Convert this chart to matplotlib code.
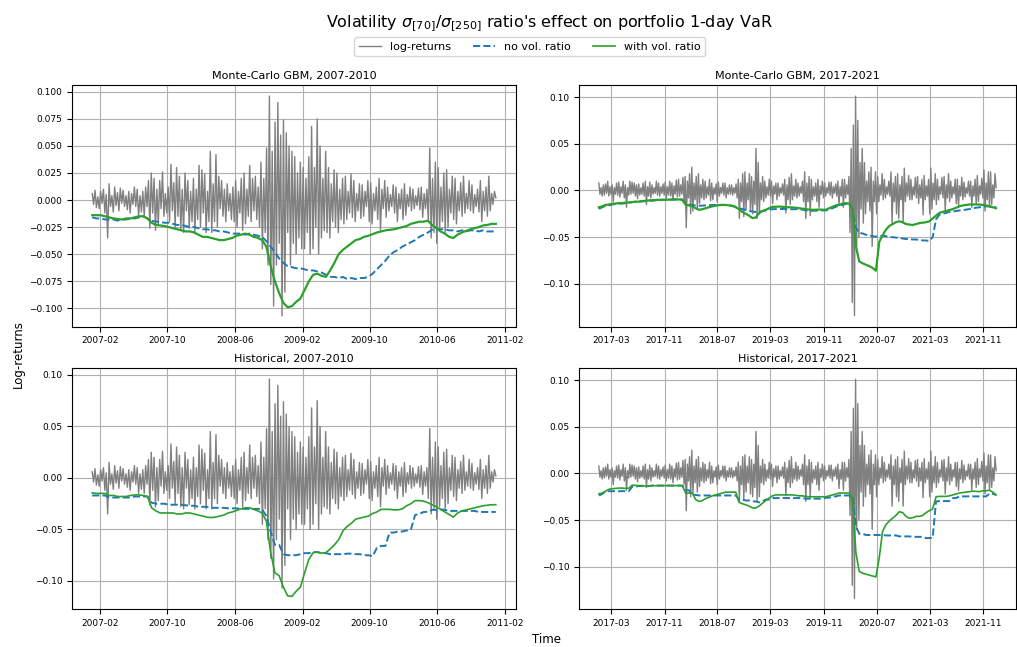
import numpy as np
import pandas as pd
import matplotlib
matplotlib.use('Agg')
import matplotlib.pyplot as plt
import matplotlib.dates as mdates
from matplotlib.ticker import FixedLocator

# Period ranges (first and last trading day)
start_a, end_a = '2007-01-03', '2010-12-31'
start_b, end_b = '2017-01-03', '2021-12-31'

# Log-returns (6 values per month)
ret_a = [
    # 2007
    0.006, -0.004, 0.009, -0.007, 0.003, -0.008,   0.008, -0.003, 0.010, -0.012, 0.005, -0.035,
    0.015, -0.006, 0.004, -0.011, 0.012, -0.005,   0.007, -0.010, 0.011, -0.003, 0.009, -0.006,
    0.004, -0.009, 0.008, -0.012, 0.006, -0.004,   0.012, -0.006, 0.010, -0.015, 0.004, -0.011,
    0.008, -0.015, 0.012, -0.006, 0.018, -0.026,   0.025, -0.012, 0.020, -0.028, 0.010, -0.022,
    0.018, -0.008, 0.026, -0.015, 0.006, -0.012,   0.012, -0.020, 0.033, -0.010, 0.016, -0.025,
    0.030, -0.015, 0.022, -0.028, 0.010, -0.030,   0.025, -0.010, 0.018, -0.026, 0.008, -0.020,
    # 2008
    0.020, -0.030, 0.010, -0.018, 0.032, -0.025,   0.028, -0.012, 0.024, -0.030, 0.008, -0.020,
    0.045, -0.030, 0.015, -0.020, 0.042, -0.025,   0.022, -0.008, 0.018, -0.015, 0.010, -0.020,
    0.015, -0.010, 0.006, -0.018, 0.012, -0.020,   0.018, -0.025, 0.008, -0.012, 0.020, -0.028,
    0.025, -0.022, 0.010, -0.015, 0.032, -0.020,   0.020, -0.010, 0.022, -0.018, 0.012, -0.025,
    0.035, -0.045, 0.020, -0.030, 0.048, -0.060,   0.096, -0.078, 0.045, -0.098, 0.072, -0.060,
    0.090, -0.040, 0.060, -0.107, 0.074, -0.085,   0.062, -0.030, 0.050, -0.060, 0.045, -0.040,
    # 2009
    0.040, -0.050, 0.025, -0.035, 0.035, -0.045,   0.030, -0.045, 0.020, -0.030, 0.040, -0.050,
    0.068, -0.045, 0.030, -0.025, 0.075, -0.050,   0.050, -0.035, 0.020, -0.028, 0.045, -0.030,
    0.030, -0.035, 0.015, -0.020, 0.028, -0.025,   0.025, -0.030, 0.010, -0.018, 0.020, -0.022,
    0.022, -0.018, 0.008, -0.012, 0.024, -0.016,   0.018, -0.020, 0.006, -0.010, 0.015, -0.017,
    0.014, -0.015, 0.008, -0.006, 0.018, -0.020,   0.016, -0.022, 0.006, -0.010, 0.012, -0.018,
    0.020, -0.028, 0.010, -0.008, 0.018, -0.016,   0.012, -0.010, 0.005, -0.006, 0.014, -0.012,
    # 2010
    0.012, -0.020, 0.006, -0.008, 0.010, -0.018,   0.015, -0.014, 0.005, -0.006, 0.012, -0.010,
    0.010, -0.008, 0.004, -0.005, 0.011, -0.009,   0.012, -0.016, 0.006, -0.008, 0.010, -0.020,
    0.048, -0.035, 0.020, -0.030, 0.035, -0.040,   0.030, -0.028, 0.012, -0.020, 0.025, -0.030,
    0.028, -0.025, 0.010, -0.012, 0.022, -0.018,   0.020, -0.022, 0.008, -0.010, 0.016, -0.015,
    0.022, -0.012, 0.006, -0.008, 0.018, -0.010,   0.014, -0.012, 0.005, -0.006, 0.010, -0.011,
    0.018, -0.020, 0.008, -0.010, 0.012, -0.015,   0.022, -0.010, 0.006, -0.004, 0.008, 0.002,
]

ret_b = [
    # 2017
    0.008, -0.004, 0.003, -0.006, 0.006, -0.005,   0.007, -0.003, 0.010, -0.006, 0.004, -0.004,
    0.006, -0.012, 0.003, -0.004, 0.008, -0.005,   0.009, -0.007, 0.004, -0.003, 0.010, -0.008,
    0.006, -0.018, 0.003, -0.005, 0.010, -0.004,   0.009, -0.003, 0.008, -0.006, 0.006, -0.009,
    0.007, -0.005, 0.003, -0.004, 0.008, -0.006,   0.010, -0.015, 0.004, -0.006, 0.009, -0.008,
    0.006, -0.004, 0.003, -0.003, 0.010, -0.005,   0.008, -0.006, 0.004, -0.003, 0.007, -0.005,
    0.009, -0.008, 0.004, -0.005, 0.010, -0.006,   0.008, -0.010, 0.005, -0.004, 0.011, -0.007,
    # 2018
    0.012, -0.006, 0.006, -0.004, 0.014, -0.012,   0.015, -0.040, 0.010, -0.008, 0.018, -0.025,
    0.025, -0.022, 0.008, -0.010, 0.015, -0.020,   0.018, -0.014, 0.006, -0.008, 0.012, -0.010,
    0.010, -0.008, 0.004, -0.005, 0.012, -0.011,   0.008, -0.010, 0.003, -0.004, 0.007, -0.012,
    0.009, -0.006, 0.003, -0.003, 0.008, -0.005,   0.008, -0.008, 0.003, -0.004, 0.006, -0.004,
    0.006, -0.005, 0.003, -0.003, 0.007, -0.008,   0.012, -0.030, 0.008, -0.012, 0.018, -0.028,
    0.020, -0.020, 0.008, -0.010, 0.018, -0.022,   0.015, -0.025, 0.010, -0.015, 0.045, -0.030,
    # 2019
    0.030, -0.025, 0.008, -0.010, 0.015, -0.012,   0.010, -0.008, 0.004, -0.005, 0.012, -0.006,
    0.010, -0.014, 0.005, -0.004, 0.008, -0.010,   0.008, -0.006, 0.003, -0.003, 0.007, -0.005,
    0.012, -0.024, 0.006, -0.010, 0.014, -0.015,   0.018, -0.010, 0.005, -0.006, 0.012, -0.008,
    0.008, -0.006, 0.004, -0.003, 0.010, -0.012,   0.020, -0.030, 0.008, -0.012, 0.015, -0.027,
    0.012, -0.010, 0.004, -0.006, 0.008, -0.012,   0.012, -0.018, 0.005, -0.004, 0.010, -0.008,
    0.008, -0.006, 0.003, -0.003, 0.009, -0.005,   0.009, -0.008, 0.004, -0.003, 0.007, -0.006,
    # 2020
    0.010, -0.016, 0.004, -0.006, 0.012, -0.018,   0.012, -0.008, 0.006, -0.004, 0.015, -0.045,
    0.045, -0.120, 0.070, -0.134, 0.101, -0.060,   0.075, -0.050, 0.030, -0.020, 0.045, -0.035,
    0.030, -0.025, 0.010, -0.012, 0.020, -0.022,   0.025, -0.060, 0.010, -0.012, 0.020, -0.025,
    0.015, -0.012, 0.006, -0.005, 0.018, -0.010,   0.012, -0.008, 0.004, -0.004, 0.010, -0.006,
    0.020, -0.035, 0.008, -0.012, 0.015, -0.025,   0.018, -0.030, 0.006, -0.010, 0.015, -0.035,
    0.024, -0.012, 0.008, -0.006, 0.016, -0.010,   0.012, -0.010, 0.004, -0.005, 0.014, -0.008,
    # 2021
    0.015, -0.014, 0.006, -0.008, 0.012, -0.026,   0.016, -0.010, 0.005, -0.006, 0.012, -0.025,
    0.024, -0.020, 0.008, -0.010, 0.018, -0.015,   0.012, -0.010, 0.004, -0.004, 0.014, -0.008,
    0.015, -0.022, 0.006, -0.008, 0.018, -0.012,   0.010, -0.008, 0.004, -0.004, 0.012, -0.014,
    0.012, -0.018, 0.005, -0.006, 0.014, -0.010,   0.009, -0.007, 0.003, -0.003, 0.010, -0.006,
    0.010, -0.018, 0.005, -0.006, 0.012, -0.015,   0.016, -0.012, 0.005, -0.004, 0.013, -0.008,
    0.022, -0.022, 0.008, -0.010, 0.020, -0.018,   0.020, -0.015, 0.006, -0.008, 0.018, 0.003,
]

# 1-day VaR estimates (2 values per month)
mc_novol_a = [
    -0.016, -0.017, -0.017, -0.018, -0.018, -0.018, -0.019, -0.018, -0.018, -0.017, -0.017, -0.016,
    -0.015, -0.017, -0.019, -0.020, -0.020, -0.021, -0.021, -0.022, -0.023, -0.023, -0.024, -0.025,
    -0.025, -0.026, -0.027, -0.027, -0.028, -0.028, -0.029, -0.029, -0.030, -0.031, -0.031, -0.031,
    -0.032, -0.031, -0.032, -0.033, -0.034, -0.038, -0.043, -0.048, -0.054, -0.058, -0.061, -0.062,
    -0.063, -0.063, -0.064, -0.065, -0.065, -0.066, -0.067, -0.069, -0.071, -0.071, -0.072, -0.071,
    -0.073, -0.072, -0.073, -0.072, -0.072, -0.071, -0.068, -0.064, -0.060, -0.056, -0.051, -0.048,
    -0.046, -0.043, -0.041, -0.039, -0.037, -0.034, -0.032, -0.030, -0.0275, -0.027, -0.027, -0.027,
    -0.028, -0.028, -0.029, -0.028, -0.029, -0.028, -0.028, -0.029, -0.028, -0.029, -0.029, -0.029,
]
mc_vol_a = [
    -0.014, -0.014, -0.014, -0.015, -0.016, -0.017, -0.0175, -0.018, -0.017, -0.017, -0.016, -0.015,
    -0.015, -0.017, -0.021, -0.023, -0.0235, -0.024, -0.025, -0.026, -0.027, -0.028, -0.029, -0.029,
    -0.030, -0.032, -0.034, -0.034, -0.035, -0.036, -0.037, -0.037, -0.036, -0.035, -0.033, -0.032,
    -0.031, -0.032, -0.034, -0.035, -0.037, -0.043, -0.061, -0.075, -0.086, -0.095, -0.099, -0.098,
    -0.094, -0.091, -0.083, -0.075, -0.069, -0.068, -0.070, -0.071, -0.065, -0.058, -0.050, -0.046,
    -0.043, -0.040, -0.037, -0.036, -0.034, -0.033, -0.0315, -0.030, -0.029, -0.028, -0.0275, -0.027,
    -0.026, -0.025, -0.024, -0.022, -0.021, -0.020, -0.020, -0.019, -0.023, -0.026, -0.029, -0.031,
    -0.034, -0.035, -0.032, -0.030, -0.0285, -0.027, -0.026, -0.025, -0.0235, -0.023, -0.022, -0.022,
]
hs_novol_a = [
    -0.017, -0.017, -0.017, -0.017, -0.019, -0.019, -0.019, -0.019, -0.019, -0.019, -0.018, -0.018,
    -0.018, -0.018, -0.024, -0.025, -0.025, -0.025, -0.026, -0.026, -0.026, -0.026, -0.0265, -0.027,
    -0.027, -0.028, -0.028, -0.028, -0.029, -0.029, -0.029, -0.029, -0.0295, -0.0295, -0.0295, -0.030,
    -0.030, -0.030, -0.030, -0.030, -0.0305, -0.037, -0.052, -0.065, -0.065, -0.074, -0.075, -0.075,
    -0.075, -0.074, -0.073, -0.073, -0.072, -0.072, -0.073, -0.073, -0.074, -0.074, -0.074, -0.074,
    -0.0735, -0.0735, -0.074, -0.074, -0.075, -0.075, -0.076, -0.068, -0.066, -0.066, -0.053, -0.053,
    -0.052, -0.052, -0.051, -0.050, -0.036, -0.035, -0.033, -0.033, -0.031, -0.031, -0.0305, -0.031,
    -0.032, -0.032, -0.032, -0.032, -0.032, -0.032, -0.032, -0.033, -0.033, -0.033, -0.033, -0.033,
]
hs_vol_a = [
    -0.0145, -0.015, -0.015, -0.015, -0.017, -0.017, -0.018, -0.018, -0.018, -0.017, -0.0165, -0.0165,
    -0.017, -0.018, -0.029, -0.032, -0.034, -0.034, -0.034, -0.034, -0.035, -0.035, -0.034, -0.034,
    -0.035, -0.036, -0.037, -0.038, -0.0385, -0.038, -0.037, -0.036, -0.034, -0.033, -0.0315, -0.030,
    -0.029, -0.029, -0.0305, -0.032, -0.034, -0.042, -0.0725, -0.092, -0.095, -0.106, -0.1145, -0.115,
    -0.110, -0.106, -0.092, -0.079, -0.0725, -0.072, -0.073, -0.0725, -0.069, -0.065, -0.060, -0.0515,
    -0.047, -0.044, -0.040, -0.039, -0.038, -0.037, -0.0345, -0.033, -0.0305, -0.0305, -0.0305, -0.031,
    -0.031, -0.030, -0.027, -0.025, -0.022, -0.022, -0.0225, -0.024, -0.026, -0.028, -0.0305, -0.033,
    -0.0355, -0.038, -0.034, -0.032, -0.031, -0.030, -0.029, -0.028, -0.027, -0.0265, -0.026, -0.026,
]

mc_novol_b = [
    -0.0196, -0.018, -0.0164, -0.016, -0.015, -0.0145, -0.014, -0.014, -0.0136, -0.013, -0.0125, -0.012,
    -0.012, -0.0115, -0.0115, -0.011, -0.011, -0.0105, -0.0105, -0.010, -0.010, -0.010, -0.0098, -0.0096,
    -0.0096, -0.0096, -0.0136, -0.015, -0.0157, -0.016, -0.0164, -0.0162, -0.016, -0.0158, -0.0156, -0.0155,
    -0.0154, -0.0155, -0.0156, -0.0158, -0.0164, -0.0175, -0.019, -0.020, -0.0207, -0.022, -0.0225, -0.023,
    -0.0229, -0.022, -0.0214, -0.0207, -0.020, -0.020, -0.020, -0.0198, -0.020, -0.020, -0.0202, -0.020,
    -0.020, -0.0205, -0.0214, -0.0214, -0.0218, -0.0216, -0.0216, -0.0214, -0.0214, -0.020, -0.019, -0.0175,
    -0.016, -0.0155, -0.0143, -0.0145, -0.020, -0.040, -0.0457, -0.046, -0.0475, -0.048, -0.049, -0.0495,
    -0.049, -0.0485, -0.049, -0.050, -0.050, -0.0505, -0.051, -0.0515, -0.052, -0.052, -0.0525, -0.0525,
    -0.053, -0.0535, -0.0536, -0.054, -0.050, -0.031, -0.026, -0.025, -0.024, -0.023, -0.0225, -0.022,
    -0.0214, -0.021, -0.0205, -0.020, -0.019, -0.0185, -0.018, -0.0175, -0.017, -0.017, -0.0175, -0.018,
]
mc_vol_b = [
    -0.018, -0.017, -0.0155, -0.015, -0.0143, -0.014, -0.0135, -0.0135, -0.013, -0.0128, -0.0125, -0.012,
    -0.012, -0.0115, -0.011, -0.0106, -0.0104, -0.0102, -0.010, -0.010, -0.010, -0.0098, -0.0096, -0.0096,
    -0.0096, -0.010, -0.0154, -0.016, -0.017, -0.019, -0.0207, -0.020, -0.019, -0.018, -0.017, -0.0163,
    -0.0157, -0.0155, -0.0155, -0.016, -0.0165, -0.018, -0.020, -0.023, -0.025, -0.027, -0.0296, -0.029,
    -0.0243, -0.022, -0.0207, -0.019, -0.0175, -0.0175, -0.0172, -0.0175, -0.018, -0.018, -0.0182, -0.0185,
    -0.019, -0.0195, -0.020, -0.0205, -0.0207, -0.0206, -0.0204, -0.0206, -0.0207, -0.019, -0.0175, -0.016,
    -0.0154, -0.014, -0.0136, -0.014, -0.020, -0.060, -0.076, -0.078, -0.0796, -0.081, -0.083, -0.086,
    -0.055, -0.048, -0.042, -0.038, -0.036, -0.034, -0.033, -0.034, -0.036, -0.0365, -0.037, -0.036,
    -0.035, -0.0345, -0.034, -0.033, -0.030, -0.027, -0.024, -0.023, -0.022, -0.021, -0.020, -0.0185,
    -0.017, -0.016, -0.0155, -0.015, -0.015, -0.015, -0.015, -0.0155, -0.016, -0.017, -0.018, -0.019,
]
hs_novol_b = [
    -0.0236, -0.022, -0.019, -0.019, -0.019, -0.019, -0.019, -0.019, -0.019, -0.019, -0.014, -0.014,
    -0.0135, -0.0135, -0.0135, -0.0135, -0.013, -0.013, -0.013, -0.013, -0.013, -0.013, -0.013, -0.013,
    -0.013, -0.013, -0.018, -0.018, -0.023, -0.023, -0.0236, -0.0236, -0.0236, -0.0236, -0.0236, -0.0236,
    -0.0236, -0.0236, -0.0236, -0.0236, -0.0236, -0.0236, -0.028, -0.028, -0.029, -0.029, -0.030, -0.030,
    -0.031, -0.030, -0.028, -0.028, -0.0264, -0.0264, -0.0264, -0.0264, -0.0264, -0.0264, -0.0264, -0.0264,
    -0.0264, -0.0264, -0.027, -0.027, -0.027, -0.027, -0.027, -0.027, -0.026, -0.026, -0.0246, -0.0246,
    -0.0236, -0.0236, -0.0236, -0.0236, -0.024, -0.057, -0.0646, -0.0646, -0.066, -0.066, -0.066, -0.066,
    -0.066, -0.066, -0.0665, -0.0665, -0.0665, -0.0665, -0.0675, -0.0675, -0.0675, -0.0675, -0.068, -0.068,
    -0.068, -0.068, -0.0693, -0.0693, -0.069, -0.030, -0.0296, -0.0296, -0.0296, -0.0296, -0.0264, -0.0264,
    -0.0246, -0.0246, -0.0246, -0.0246, -0.0246, -0.0246, -0.0246, -0.0246, -0.0246, -0.0218, -0.0218, -0.023,
]
hs_vol_b = [
    -0.0218, -0.021, -0.019, -0.017, -0.0164, -0.016, -0.0157, -0.0157, -0.016, -0.0158, -0.0125, -0.0128,
    -0.013, -0.013, -0.0135, -0.0135, -0.013, -0.0132, -0.013, -0.013, -0.013, -0.013, -0.013, -0.013,
    -0.013, -0.013, -0.021, -0.021, -0.021, -0.028, -0.030, -0.029, -0.027, -0.0255, -0.024, -0.023,
    -0.022, -0.021, -0.020, -0.020, -0.020, -0.020, -0.031, -0.0325, -0.0336, -0.035, -0.037, -0.037,
    -0.035, -0.032, -0.029, -0.0264, -0.024, -0.023, -0.023, -0.023, -0.023, -0.023, -0.023, -0.0235,
    -0.024, -0.024, -0.0246, -0.025, -0.025, -0.025, -0.025, -0.025, -0.025, -0.024, -0.023, -0.022,
    -0.021, -0.021, -0.021, -0.021, -0.028, -0.085, -0.105, -0.107, -0.108, -0.109, -0.110, -0.111,
    -0.090, -0.062, -0.055, -0.051, -0.048, -0.045, -0.041, -0.042, -0.046, -0.048, -0.0475, -0.046,
    -0.046, -0.045, -0.042, -0.040, -0.038, -0.025, -0.0246, -0.0246, -0.0246, -0.024, -0.023, -0.022,
    -0.021, -0.0205, -0.020, -0.0195, -0.019, -0.0192, -0.0195, -0.0186, -0.0186, -0.018, -0.020, -0.023,
]

titles = ['Monte-Carlo GBM, 2007-2010', 'Monte-Carlo GBM, 2017-2021',
          'Historical, 2007-2010', 'Historical, 2017-2021']
labels = ['log-returns', 'no vol. ratio', 'with vol. ratio']

panels = [
    (ret_a, mc_novol_a, mc_vol_a, start_a, end_a, '2007-02-01', 7, (-0.117, 0.1062)),
    (ret_b, mc_novol_b, mc_vol_b, start_b, end_b, '2017-03-01', 8, (-0.146, 0.113)),
    (ret_a, hs_novol_a, hs_vol_a, start_a, end_a, '2007-02-01', 7, (-0.1275, 0.1068)),
    (ret_b, hs_novol_b, hs_vol_b, start_b, end_b, '2017-03-01', 8, (-0.1457, 0.1132)),
]

# axes boxes in figure fractions (left, bottom, width, height)
boxes = [
    (0.0708, 0.4950, 0.4366, 0.3736),
    (0.5693, 0.4950, 0.4297, 0.3736),
    (0.0708, 0.0583, 0.4366, 0.3730),
    (0.5693, 0.0583, 0.4297, 0.3730),
]

fig = plt.figure(figsize=(10.17, 6.47), dpi=100)

handles = None
for i, (ret, novol, vol, s, e, tick0, nticks, ylim) in enumerate(panels):
    ax = fig.add_axes(boxes[i])
    d_ret = pd.date_range(s, e, periods=len(ret))
    d_var = pd.date_range(s, e, periods=len(novol))
    lw_g = 1.6 if i < 2 else 1.2
    h1, = ax.plot(d_ret, ret, color='grey', lw=1.0)
    h2, = ax.plot(d_var, novol, color='tab:blue', ls='--', lw=1.4)
    h3, = ax.plot(d_var, vol, color='tab:green', lw=lw_g)
    handles = [h1, h2, h3]
    ax.set_ylim(*ylim)
    ticks = pd.date_range(tick0, periods=nticks, freq='8MS')
    ax.xaxis.set_major_locator(FixedLocator(mdates.date2num(ticks)))
    ax.xaxis.set_major_formatter(mdates.DateFormatter('%Y-%m'))
    ax.tick_params(labelsize=6.5)
    ax.grid(True)
    ax.set_title(titles[i], fontsize=8, pad=4)

fig.suptitle(r"Volatility $\sigma_{[70]}/\sigma_{[250]}$ ratio's effect on portfolio 1-day VaR",
             x=0.540, y=0.963, fontsize=11.5, va='center')
fig.legend(handles, labels, loc='center', ncol=3, bbox_to_anchor=(0.521, 0.928),
           fontsize=8, frameon=True)
fig.text(0.018, 0.453, 'Log-returns', rotation=90, ha='center', va='center', fontsize=8.5)
fig.text(0.537, 0.001, 'Time', ha='center', va='bottom', fontsize=8.5)

fig.savefig('out.png', dpi=100)
